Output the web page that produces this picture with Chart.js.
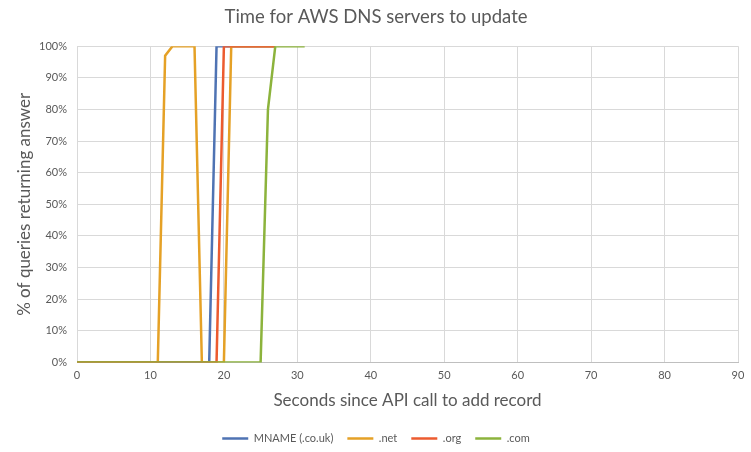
<!DOCTYPE html>
<html><head><meta charset="utf-8">
<script src="https://cdn.jsdelivr.net/npm/chart.js@4"></script>
<style>html,body{margin:0;padding:0;background:#fff}#wrap{width:751px;height:452px}</style>
</head><body><div id="wrap"><canvas id="c" width="751" height="452"></canvas></div>
<script>
const seconds = [0,1,2,3,4,5,6,7,8,9,10,11,12,13,14,15,16,17,18,19,20,21,22,23,24,25,26,27,28,29,30,31];
const mname = [0,0,0,0,0,0,0,0,0,0,0,0,0,0,0,0,0,0,0,100,100,100,100,100,100,100,100,100,null,null,null,null];
const net   = [0,0,0,0,0,0,0,0,0,0,0,0,97,100,100,100,100,0,0,0,0,100,100,100,100,100,100,100,null,null,null,null];
const org   = [0,0,0,0,0,0,0,0,0,0,0,0,0,0,0,0,0,0,0,0,100,100,100,100,100,100,100,100,null,null,null,null];
const com   = [0,0,0,0,0,0,0,0,0,0,0,0,0,0,0,0,0,0,0,0,0,0,0,0,0,0,80,100,100,100,100,100];
const seriesNames = ["MNAME (.co.uk)", ".net", ".org", ".com"];
const xTicks = [0,10,20,30,40,50,60,70,80,90];
const yTicks = [0,10,20,30,40,50,60,70,80,90,100];

const pts = arr => seconds.map((s,i)=>({x:s,y:arr[i]})).filter(p=>p.y!==null);
const colors = ["#4f73b3","#e5a126","#ec5b2f","#8cb33c"];
const F = "Lato, 'Open Sans', sans-serif";
const mk = (i,arr)=>({label:seriesNames[i],data:pts(arr),borderColor:colors[i],backgroundColor:colors[i],borderWidth:2.5,pointRadius:0,tension:0,order:3-i});

new Chart(document.getElementById('c'),{
  type:'line',
  data:{datasets:[mk(0,mname),mk(1,net),mk(2,org),mk(3,com)]},
  options:{
    responsive:false,animation:false,
    layout:{padding:{left:14,right:13,top:0,bottom:-2}},
    plugins:{
      title:{display:true,text:"Time for AWS DNS servers to update",color:"#595959",font:{family:F,size:18.5,weight:'normal'},padding:{top:6,bottom:18}},
      legend:{position:'bottom',labels:{usePointStyle:true,pointStyle:'line',pointStyleWidth:26,color:"#595959",font:{family:F,size:11},padding:14,sort:(a,b)=>a.datasetIndex-b.datasetIndex}},
      tooltip:{enabled:false}
    },
    scales:{
      x:{type:'linear',min:0,max:90,
        afterBuildTicks:s=>{s.ticks=xTicks.map(v=>({value:v}));},
        ticks:{color:"#595959",font:{family:F,size:11},padding:6,maxRotation:0},
        grid:{color:"#d9d9d9",drawTicks:false},
        border:{color:"#bfbfbf"},
        title:{display:true,text:"Seconds since API call to add record",color:"#595959",font:{family:F,size:17},padding:{top:3,bottom:8}}
      },
      y:{min:0,max:100,
        afterBuildTicks:s=>{s.ticks=yTicks.map(v=>({value:v}));},
        afterFit:s=>{s.width=63;},
        ticks:{color:"#595959",font:{family:F,size:11},padding:10,callback:v=>v+'%'},
        grid:{color:"#d9d9d9",drawTicks:false},
        border:{color:"#d9d9d9"},
        title:{display:true,text:"% of queries returning answer",color:"#595959",font:{family:F,size:17},padding:{top:0,bottom:6}}
      }
    }
  }
});
</script></body></html>
